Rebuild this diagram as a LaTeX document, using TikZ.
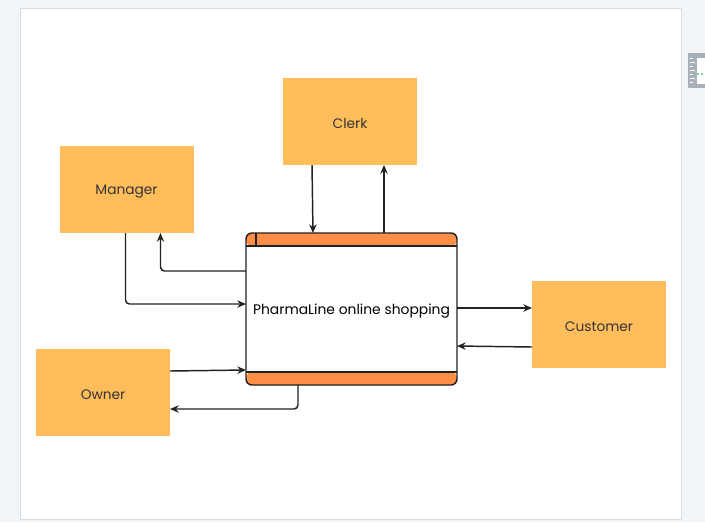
\documentclass[tikz,border=0pt]{standalone}
\usepackage{fontspec}
\setmainfont{Poppins}
\usetikzlibrary{arrows.meta,calc}
\definecolor{bg}{HTML}{F2F5F7}
\definecolor{pageedge}{HTML}{D9DCDF}
\definecolor{boxfill}{HTML}{FFBD5C}
\definecolor{bandfill}{HTML}{FF8E47}
\definecolor{linec}{HTML}{222222}
\definecolor{txt}{HTML}{333333}
\definecolor{icongray}{HTML}{A8B0B8}
\definecolor{icongreen}{HTML}{7FD39A}
\newcommand\lowtxt[1]{\raisebox{-1.5pt}[\height][\depth]{#1}}
\begin{document}
\begin{tikzpicture}[x=0.75pt,y=-0.75pt,
  ext/.style={rectangle, fill=boxfill, draw=none, minimum width=100.5pt, minimum height=65.25pt, inner sep=0pt, outer sep=0pt, font=\fontsize{10.3pt}{12pt}\selectfont, text=txt},
  proc/.style={rectangle, rounded corners=4.5pt, draw=linec, line width=1.1pt, fill=white, minimum width=158.25pt, minimum height=114pt, inner sep=0pt, outer sep=0pt, font=\fontsize{10.4pt}{12pt}\selectfont, text=black,
    path picture={
      \fill[bandfill] (path picture bounding box.north west) rectangle ([yshift=-9.75pt]path picture bounding box.north east);
      \fill[bandfill] (path picture bounding box.south west) rectangle ([yshift=9.75pt]path picture bounding box.south east);
      \draw[linec, line width=1pt] ([yshift=-9.75pt]path picture bounding box.north west) -- ([yshift=-9.75pt]path picture bounding box.north east);
      \draw[linec, line width=1pt] ([yshift=9.75pt]path picture bounding box.south west) -- ([yshift=9.75pt]path picture bounding box.south east);
      \draw[linec, line width=1pt] ([xshift=7.5pt]path picture bounding box.north west) -- ([xshift=7.5pt,yshift=-9.75pt]path picture bounding box.north west);
    }},
  arr/.style={draw=linec, line width=1.1pt, rounded corners=3pt, -{Stealth[length=6.5pt,width=5.5pt]}}
]
\useasboundingbox (0,0) rectangle (705,522);
\fill[bg] (0,0) rectangle (705,522);
\fill[black!10] (21,9) rectangle (682,520);
\draw[pageedge, fill=white, line width=0.6pt] (20,8) rectangle (681,519);
% side icon
\fill[icongray] (688,53) rectangle (705,88);
\fill[white] (697,58) rectangle (705,84);
\foreach \yy/\ll in {58/3,62/5,66/3,70/5,74/3,78/5,82/3} {
  \draw[white, line width=0.6pt] (690,\yy) -- (690+\ll,\yy);
}
\draw[icongreen, line width=0.8pt, dash pattern=on 2pt off 1.5pt] (696,74) -- (705,74);

\node[ext] (clerk) at (350,121.5) {\lowtxt{Clerk}};
\node[ext] (mgr) at (126.5,189.5) {\lowtxt{Manager}};
\node[ext] (own) at (103,392.5) {\lowtxt{Owner}};
\node[ext] (cust) at (599,324.5) {\lowtxt{Customer}};
\node[proc] (p) at (351.5,309) {\lowtxt{PharmaLine online shopping}};

\draw[arr] ($(clerk.south west)+(29,0)$) -- ($(p.north west)+(67,0)$);
\draw[arr] ($(p.north west)+(138,0)$) -- ($(clerk.south west)+(101,0)$);
\draw[arr] ($(p.north west)+(0,38)$) -| ($(mgr.south west)+(101,0)$);
\draw[arr] ($(mgr.south west)+(66,0)$) |- ($(p.north west)+(0,71)$);
\draw[arr] ($(own.north east)+(0,22)$) -- ($(p.north west)+(0,137)$);
\draw[arr] ($(p.south west)+(52,0)$) |- ($(own.north east)+(0,60)$);
\draw[arr] ($(p.north east)+(0,75)$) -- ($(cust.north west)+(0,27)$);
\draw[arr] ($(cust.north west)+(0,66)$) -- ($(p.north east)+(0,113)$);
\end{tikzpicture}
\end{document}
